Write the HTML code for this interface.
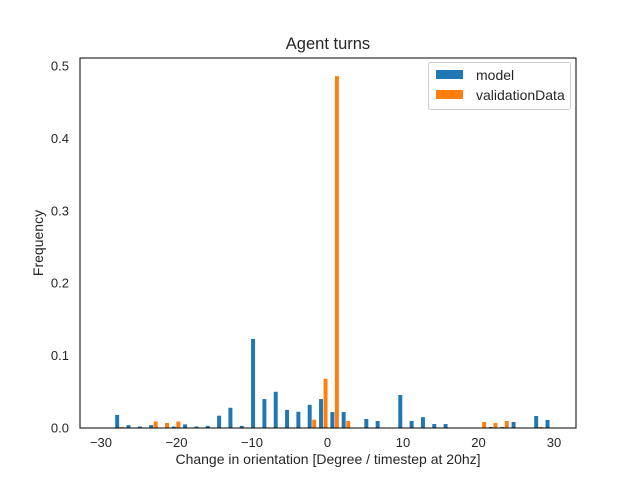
<!DOCTYPE html>
<html><head><meta charset="utf-8"><style>
body{margin:0;background:#fff;font-family:"Liberation Sans","DejaVu Sans",sans-serif;}
svg text{font-family:"Liberation Sans","DejaVu Sans",sans-serif;fill:#262626;}
</style></head><body>
<svg id="chart" width="640" height="480">
</svg>
<script>
const binStart = -28.3;
const binWidth = 1.5;
const model = [0.018,0.004,0.002,0.004,0,0.002,0.005,0.002,0.003,0.017,0.028,0.003,0.123,0.040,0.050,0.025,0.0225,0.032,0.040,0.022,0.022,0,0.0124,0.0097,0,0.0456,0.0097,0.015,0.0055,0.0055,0,0,0,0.0014,0.0014,0.0083,0,0.0166,0.011];
const validationData = [0.0014,0,0,0.009,0.007,0.009,0,0,0,0,0,0,0,0,0,0,0,0.0115,0.068,0.486,0.0097,0,0,0,0,0,0,0,0,0,0,0,0.0083,0.007,0.0097,0,0,0.0014,0];
const xTicks = [-30,-20,-10,0,10,20,30];
const yTicks = [0,0.1,0.2,0.3,0.4,0.5];

const NS="http://www.w3.org/2000/svg";
const svg=document.getElementById('chart');
const L=80,R=576,T=58,B=428;
function xs(v){return 101+(v+30)*(554-101)/60;}
function ys(v){return 428-v*(428-66)/0.5;}
function mk(tag,attrs,parent){const e=document.createElementNS(NS,tag);for(const k in attrs)e.setAttribute(k,attrs[k]);(parent||svg).appendChild(e);return e;}

const bars=mk('g',{});


[[model,'#1f77b4',0.12,'model-bar'],[validationData,'#ff7f0e',0.52,'validation-bar']].forEach(([arr,col,off,nm])=>{
  arr.forEach((v,i)=>{
    if(!v)return;
    const x0=xs(binStart+binWidth*(i+off)), x1=xs(binStart+binWidth*(i+off+0.35));
    const r=mk('rect',{x:x0,y:ys(v),width:x1-x0,height:ys(0)-ys(v),fill:col},bars);
    
    
  });
});

const frame=mk('rect',{x:L,y:T,width:R-L,height:B-T,fill:'none',stroke:'#000','stroke-width':1});



xTicks.forEach(t=>{
  const x=xs(t);
  const tx=mk('text',{x:x,y:B+19,'text-anchor':'middle','font-size':13});
  tx.textContent=(t<0?'\u2212'+(-t):t);
  
  
});
yTicks.forEach(t=>{
  const y=ys(t);
  const tx=mk('text',{x:L-11,y:y+4.5,'text-anchor':'end','font-size':13});
  tx.textContent=t.toFixed(1);
  
  
});
</script>
<svg width="640" height="480" style="position:absolute;left:0;top:0">
<text x="328" y="49" text-anchor="middle" font-size="16.5">Agent turns</text>
<text x="328" y="464" text-anchor="middle" font-size="14">Change in orientation [Degree / timestep at 20hz]</text>
<text transform="translate(43,243) rotate(-90)" text-anchor="middle" font-size="14">Frequency</text>
<g>
<rect x="428.5" y="62.5" width="142" height="47" rx="2" fill="#fff" fill-opacity="0.8" stroke="#ccc"/>
<rect x="436" y="70" width="27" height="9" fill="#1f77b4"/>
<text x="476" y="80" font-size="14">model</text>
<rect x="436" y="90" width="27" height="9" fill="#ff7f0e"/>
<text x="476" y="100" font-size="14">validationData</text>
</g>
</svg>
</body></html>
